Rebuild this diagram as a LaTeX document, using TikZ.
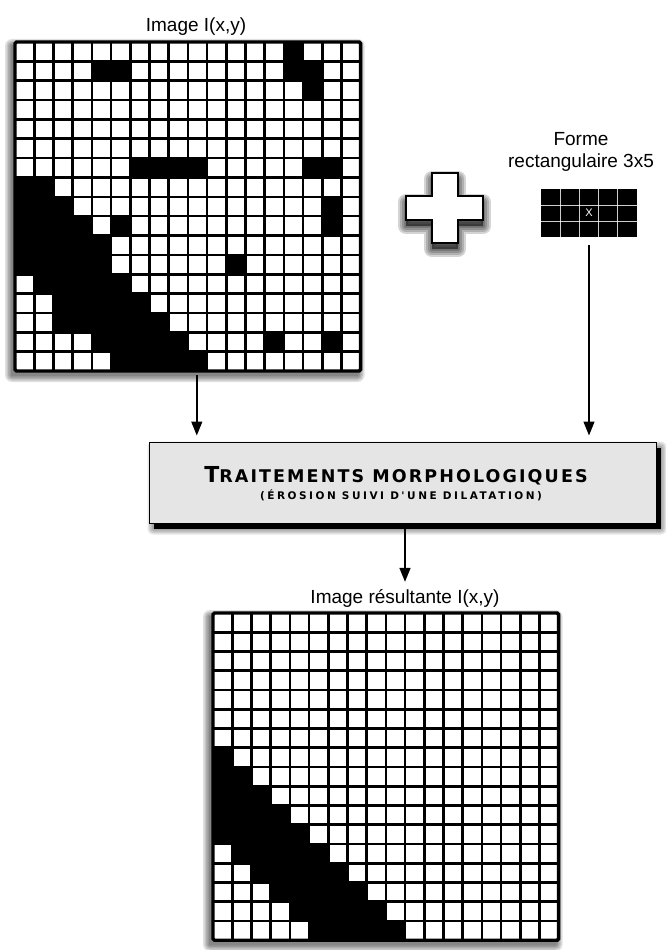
\documentclass[tikz,border=0pt]{standalone}
\usepackage{fontspec}
\setmainfont{Liberation Sans}
\newfontfamily\capfont[LetterSpace=12]{DejaVu Sans}
\newfontfamily\subcapfont[LetterSpace=24]{DejaVu Sans}
\usetikzlibrary{arrows.meta,backgrounds}
\newcommand\fuzz[3]{%
  \begin{scope}[on background layer]
    \foreach \d in {7,5.5,4,2.5,1}{%
      \fill[black,opacity=0.12,rounded corners=\d pt]
        ([shift={(#2-\d,#3-\d)}]#1.north west) rectangle ([shift={(#2+\d,#3+\d)}]#1.south east);}
  \end{scope}}
\begin{document}
\begin{tikzpicture}[x=1pt,y=-1pt,
  lbl/.style={font=\fontsize{19}{21}\selectfont, inner sep=0pt, anchor=base},
  gridline/.style={line width=2.6pt, black},
  gridframe/.style={line width=3.4pt, black, rounded corners=1.5pt},
  arr/.style={line width=1.4pt, -{Triangle[length=14pt,width=11pt]}},
  plusshape/.style={insert path={(432,173) -- (458,173) -- (458,196) -- (483,196) -- (483,220) -- (458,220) -- (458,243) -- (432,243) -- (432,220) -- (406,220) -- (406,196) -- (432,196) -- cycle}}
]
\useasboundingbox (0,0) rectangle (666,950);

% ---------- top grid ----------
\node[minimum width=345.6pt, minimum height=329pt, inner sep=0pt, outer sep=0pt,
      anchor=north west, fill=white] (img) at (15,42) {};
\fuzz{img}{-3}{4}
\foreach \r/\cs in {0/{14}, 1/{4,5,14,15}, 2/{15}, 6/{6,7,8,9,15,16}, 7/{0,1},
    8/{0,1,2,16}, 9/{0,1,2,3,5,16}, 10/{0,...,4}, 11/{0,...,4,11}, 12/{1,...,5},
    13/{2,...,6}, 14/{2,...,7}, 15/{4,...,8,13,16}, 16/{5,...,9}}{
  \foreach \c in \cs {\fill[black] (15+\c*19.2, 42+\r*19.35) rectangle ++(19.2,19.35);}
}
\foreach \c in {1,...,17} {\draw[gridline] (15+\c*19.2,42) -- ++(0,329);}
\foreach \r in {1,...,16} {\draw[gridline] (15,42+\r*19.35) -- ++(345.6,0);}
\draw[gridframe] (img.north west) rectangle (img.south east);

% ---------- bottom grid ----------
\node[minimum width=345.6pt, minimum height=327.25pt, inner sep=0pt, outer sep=0pt,
      anchor=north west, fill=white] (res) at (213,613) {};
\fuzz{res}{-3}{4}
\foreach \r/\cs in {7/{0}, 8/{0,1}, 9/{0,1,2}, 10/{0,...,3}, 11/{0,...,4},
    12/{1,...,5}, 13/{2,...,6}, 14/{3,...,7}, 15/{4,...,8}, 16/{5,...,9}}{
  \foreach \c in \cs {\fill[black] (213+\c*19.2, 613+\r*19.25) rectangle ++(19.2,19.25);}
}
\foreach \c in {1,...,17} {\draw[gridline] (213+\c*19.2,613) -- ++(0,327.25);}
\foreach \r in {1,...,16} {\draw[gridline] (213,613+\r*19.25) -- ++(345.6,0);}
\draw[gridframe] (res.north west) rectangle (res.south east);

% ---------- plus sign ----------
\foreach \w in {16,12,8,4} {
  \path[shift={(0,6)}, plusshape, fill=black, draw=black, opacity=0.17, line width=\w pt, line join=round];
}
\path[plusshape, fill=white, draw=black, line width=1.8pt];

% ---------- structuring element ----------
\node[minimum width=96pt, minimum height=48pt, inner sep=0pt, outer sep=0pt,
      anchor=north west, fill=black] (se) at (541,189) {};
\foreach \c in {1,...,4} {\draw[white, line width=0.8pt, opacity=0.8] (541+\c*19.2,189) -- ++(0,48);}
\foreach \r in {1,2} {\draw[white, line width=0.8pt, opacity=0.8] (541,189+\r*16) -- ++(96,0);}
\node[text=white, font=\fontsize{11}{11}\selectfont, inner sep=0pt] (xm) at (se.center) {X};

% ---------- labels ----------
\node[lbl] (t1) at (196,32) {Image I(x,y)};
\node[lbl] (t2) at (581,145) {Forme};
\node[lbl] (t3) at (581,167) {rectangulaire 3x5};
\node[lbl] (t4) at (405,603) {Image résultante I(x,y)};

% ---------- processing box ----------
\node[minimum width=507pt, minimum height=81pt, inner sep=0pt, outer sep=0pt,
      fill=black!10, draw=black, line width=1.6pt] (proc) at (403,483) {};
\begin{scope}[on background layer]
  \foreach \d in {6,4.5,3,1.5}{%
    \fill[black,opacity=0.1,rounded corners=\d pt]
      ([shift={(4-\d,5-\d)}]proc.north west) rectangle ([shift={(4+\d,5+\d)}]proc.south east);}
  \fill[black] ([shift={(4,5)}]proc.north west) rectangle ([shift={(4,5)}]proc.south east);
\end{scope}
\node[inner sep=0pt, anchor=base] (ttl) at (396,482)
  {\capfont\bfseries\fontsize{22}{23}\selectfont T\fontsize{17.5}{18}\selectfont RAITEMENTS MORPHOLOGIQUES};
\node[inner sep=0pt, anchor=base] (sub) at (401,499)
  {\subcapfont\bfseries\fontsize{10.5}{11}\selectfont (ÉROSION SUIVI D'UNE DILATATION)};

% ---------- arrows ----------
\draw[arr, shorten <=4pt, shorten >=7pt] ([xshift=9pt]img.south) -- ([xshift=9pt]img.south |- proc.north);
\draw[arr, shorten <=8pt, shorten >=7pt] (se.south) -- (se.south |- proc.north);
\draw[arr, shorten <=5pt, shorten >=7pt] (proc.south -| t4) -- (t4.north);
\end{tikzpicture}
\end{document}
